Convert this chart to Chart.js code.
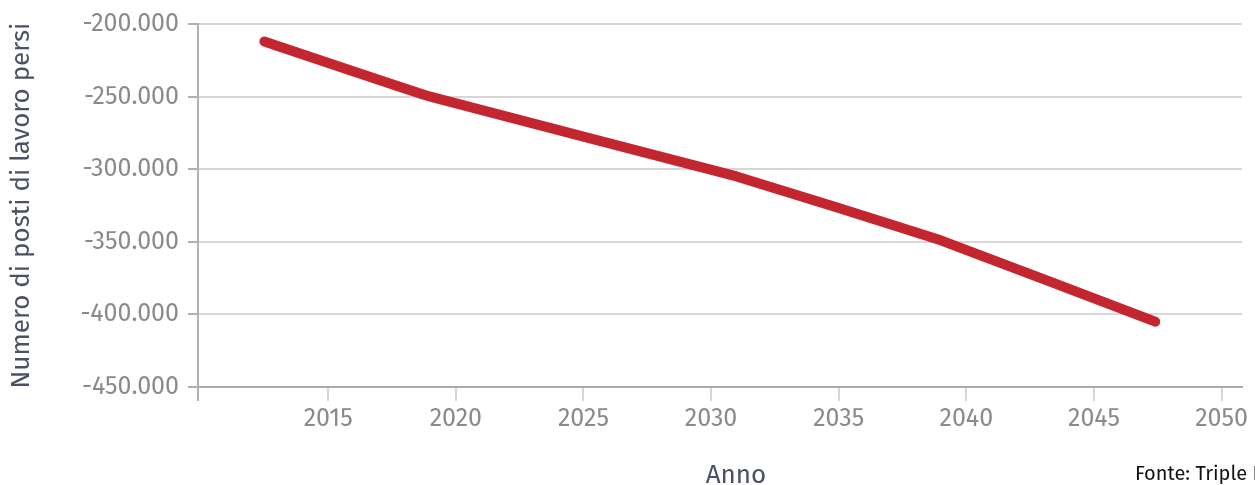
<!DOCTYPE html>
<html>
<head>
<meta charset="utf-8">
<script src="https://cdn.jsdelivr.net/npm/chart.js@4"></script>
<style>
  body { margin: 0; background: #fff; }
  #wrap { width: 1255px; height: 485px; }
</style>
</head>
<body>
<div id="wrap"><canvas id="lineChart" width="1255" height="485"></canvas></div>
<script>
// dati
const years = [2012.5, 2019, 2031, 2039, 2047.4];
const jobsLost = [-212000, -250000, -305000, -349000, -405000];
const yTicks = [-450000, -400000, -350000, -300000, -250000, -200000];
const xTicks = [2015, 2020, 2025, 2030, 2035, 2040, 2045, 2050];

const fontFamily = '"Fira Sans", "Open Sans", sans-serif';

const fmt = (v) => {
  const s = Math.abs(v).toString().replace(/\B(?=(\d{3})+(?!\d))/g, ".");
  return (v < 0 ? "-" : "") + s;
};

const extraText = {
  id: "extraText",
  afterDraw(chart) {
    const ctx = chart.ctx;
    ctx.save();
    ctx.textBaseline = "alphabetic";
    ctx.font = "26px " + fontFamily;
    ctx.fillStyle = "#4b5064";
    ctx.textAlign = "center";
    ctx.fillText("Anno", 736, 483);
    ctx.font = "20px " + fontFamily;
    ctx.fillStyle = "#111";
    ctx.textAlign = "left";
    ctx.fillText("Fonte: Triple I", 1135, 480);
    ctx.restore();
  },
};

new Chart(document.getElementById("lineChart"), {
  type: "line",
  data: {
    datasets: [
      {
        data: years.map((y, i) => ({ x: y, y: jobsLost[i] })),
        borderColor: "#c3262f",
        borderWidth: 10,
        borderCapStyle: "round",
        borderJoinStyle: "round",
        tension: 0.08,
        pointRadius: 0,
        fill: false,
      },
    ],
  },
  options: {
    responsive: false,
    animation: false,
    layout: { padding: { top: 21, right: 13, left: 0, bottom: 0 } },
    plugins: { legend: { display: false }, tooltip: { enabled: false } },
    scales: {
      x: {
        type: "linear",
        min: 2009.9,
        max: 2050.8,
        afterBuildTicks: (s) => {
          s.ticks = [{ value: s.min }].concat(xTicks.map((v) => ({ value: v })));
        },
        afterFit: (s) => { s.height = 98; },
        border: { color: "#aaaaaa", width: 2 },
        grid: {
          drawOnChartArea: false,
          tickLength: 14,
          lineWidth: 2,
          tickColor: (c) => (c.tick && c.tick.value % 5 === 0 ? "#d6d6d6" : "#b0b0b0"),
        },
        ticks: {
          padding: 3,
          color: "#8a8a8a",
          font: { family: fontFamily, size: 25 },
          callback: (v) => (v % 5 === 0 ? String(v) : ""),
        },
      },
      y: {
        min: -450000,
        max: -200000,
        afterBuildTicks: (s) => { s.ticks = yTicks.map((v) => ({ value: v })); },
        afterFit: (s) => { s.width = 198; },
        border: { color: "#b0b0b0", width: 2 },
        grid: {
          color: "#d6d6d6",
          lineWidth: 2,
          tickLength: 10,
          tickColor: "#b0b0b0",
        },
        ticks: {
          padding: 9,
          color: "#8a8a8a",
          font: { family: fontFamily, size: 25 },
          callback: (v) => fmt(v),
        },
        title: {
          display: true,
          text: "Numero di posti di lavoro persi",
          color: "#4b5064",
          font: { family: fontFamily, size: 26 },
          padding: { top: 6, bottom: 0 },
        },
      },
    },
  },
  plugins: [extraText],
});
</script>
</body>
</html>
